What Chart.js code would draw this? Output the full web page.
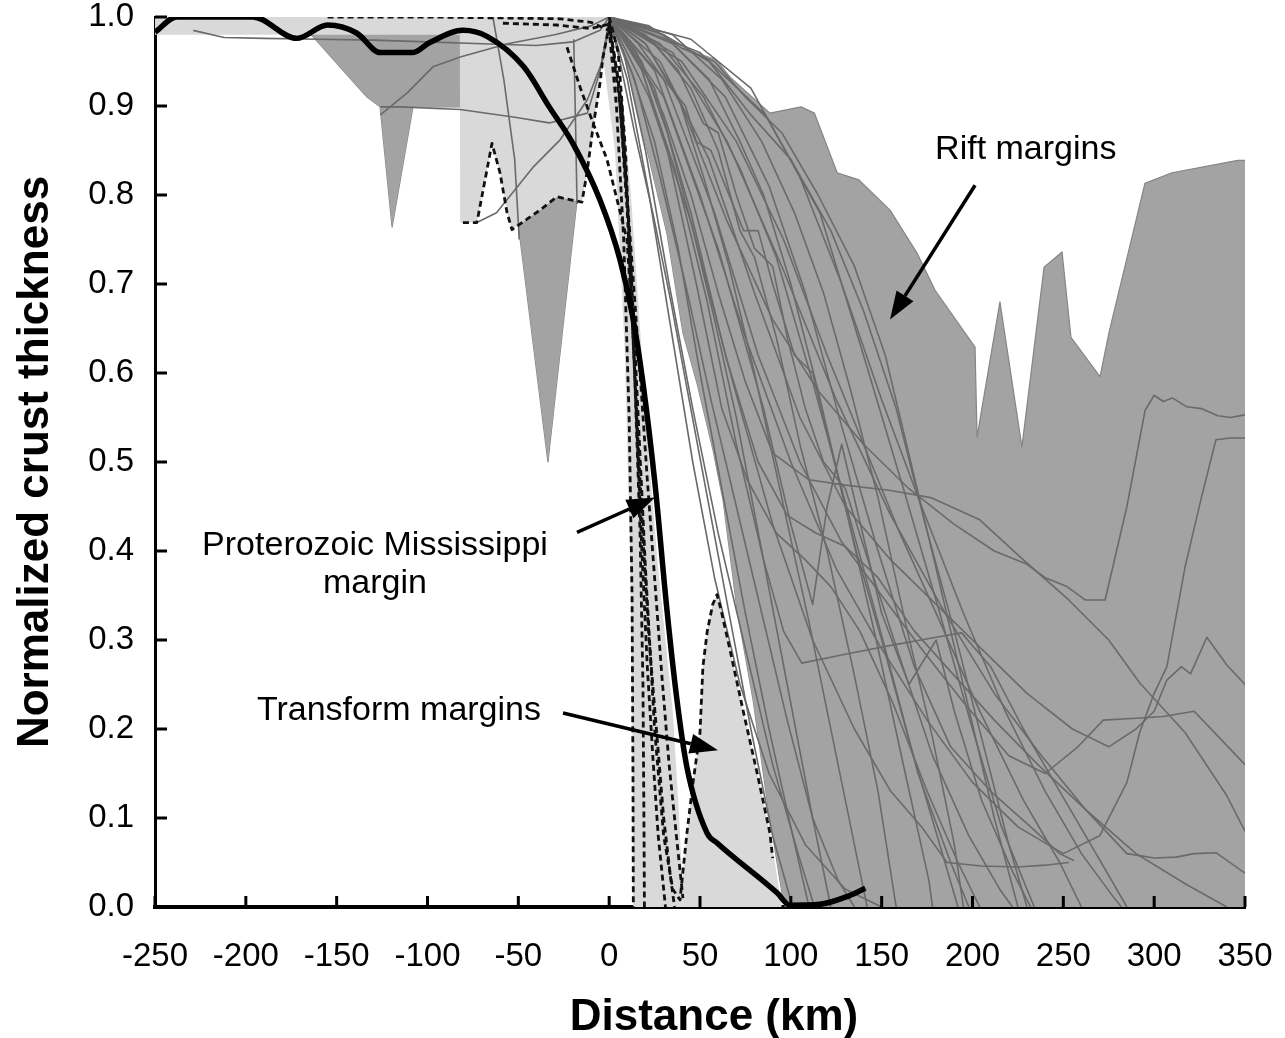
<!DOCTYPE html>
<html>
<head>
<meta charset="utf-8">
<title>Normalized crust thickness vs distance</title>
<script src="https://cdn.jsdelivr.net/npm/chart.js@4.4.1/dist/chart.umd.min.js"></script>
<style>
  html, body { margin: 0; padding: 0; background: #fff; }
  #wrap { width: 1285px; height: 1038px; }
</style>
</head>
<body>
<div id="wrap"><canvas id="crustChart" width="1285" height="1038"></canvas></div>
<script>
// Axis ticks
const distanceTicks = [-250, -200, -150, -100, -50, 0, 50, 100, 150, 200, 250, 300, 350];
const thicknessTicks = [0, 0.1, 0.2, 0.3, 0.4, 0.5, 0.6, 0.7, 0.8, 0.9, 1.0];

// Proterozoic Mississippi margin (thick black curve), [km, normalized thickness]
const mississippiMargin = [
  [-250, 0.983], [-238, 1.0], [-196, 1.0], [-172, 0.976], [-155, 0.991], [-139, 0.982],
  [-126, 0.96], [-108, 0.96], [-99, 0.971], [-80.5, 0.985], [-67, 0.978], [-47, 0.944],
  [-33, 0.899], [-20, 0.858], [-5, 0.794], [6, 0.727], [13, 0.663], [18.6, 0.589],
  [25.2, 0.476], [31.8, 0.334], [37.3, 0.233], [42.8, 0.157], [53.9, 0.083], [59.4, 0.072],
  [92.4, 0.016], [99.5, 0.002], [116, 0.003], [130, 0.011], [141, 0.021]
];

// Rift margin envelope (dark grey)
const riftEnvelopeTop = [
  [0, 1.0], [21.9, 0.989], [39.3, 0.966], [58.9, 0.952], [66.3, 0.933], [88.5, 0.892],
  [105.6, 0.899], [113, 0.892], [125.5, 0.825], [137.5, 0.817], [154.6, 0.783], [169.4, 0.735],
  [179.4, 0.693], [201.4, 0.629], [202.5, 0.528], [215.1, 0.68], [227.2, 0.517], [239.4, 0.719],
  [249.3, 0.736], [254.2, 0.64], [270.2, 0.596], [275.1, 0.645], [294.9, 0.813], [309.8, 0.825],
  [346.1, 0.839], [350, 0.839]
];
const riftEnvelopeBase = [
  [0, 1.0], [8.7, 0.952], [20.8, 0.851], [31.8, 0.757], [40.6, 0.645], [48.3, 0.589],
  [57.2, 0.513], [62.7, 0.457], [70.4, 0.334], [79.2, 0.233], [86.9, 0.12], [95.1, 0.016],
  [97, 0], [350, 0]
];
const riftShoulderTop = [[-181.2, 1.0], [-82, 1.0]];
const riftShoulderBase = [
  [-181.2, 1.0], [-163, 0.978], [-148.2, 0.944], [-133.3, 0.91], [-126.1, 0.899],
  [-119.5, 0.764], [-108, 0.899], [-82, 0.899]
];
const riftTroughTop = [[-51, 0.9], [-17.5, 0.9]];
const riftTroughBase = [[-51, 0.9], [-50.7, 0.778], [-33.7, 0.5], [-17.7, 0.794], [-17.5, 0.9]];

// Transform margin envelope (light grey)
const transformBandTop = [[-250, 1.0], [0, 1.0]];
const transformBandBase = [
  [-250, 0.98], [-82.2, 0.98], [-82, 0.769], [-72.8, 0.769], [-64.5, 0.858], [-60.1, 0.825],
  [-56.2, 0.78], [-53.5, 0.761], [-38.1, 0.783], [-28.7, 0.798], [-19.9, 0.794], [-15, 0.792],
  [-12.2, 0.825], [-8.9, 0.876], [-5, 0.926], [-3.4, 0.955], [0, 1.0]
];
const transformTongueTop = [
  [-3.4, 0.99], [0, 1.0], [6, 0.93], [12, 0.8], [17, 0.65], [22, 0.5], [27, 0.38],
  [31, 0.3], [35, 0.22], [38, 0.12], [40, 0.04], [41, 0]
];
const transformTongueBase = [
  [-3.4, 0.955], [3.2, 0.85], [8.7, 0.62], [11.5, 0.4], [12.8, 0.2], [13.2, 0], [41, 0]
];
const transformBump = [
  [39, 0], [39, 0.008], [42.8, 0.083], [46.1, 0.139], [50, 0.196], [51.6, 0.27], [54, 0.31],
  [57, 0.34], [59.4, 0.351], [62, 0.33], [66.5, 0.289], [73.7, 0.221], [81.4, 0.151],
  [88.5, 0.083], [92, 0.04], [95, 0]
];

// Individual rift margin profiles (thin grey)
const riftProfiles = [
  [[0,1],[6,0.95],[14,0.87],[24,0.78],[34,0.68],[44,0.57],[55,0.45],[66,0.33],[78,0.2],[90,0.08],[101,0]],
  [[0,1],[12,0.94],[25,0.86],[38,0.74],[50,0.6],[62,0.47],[75,0.33],[88,0.2],[100,0.09],[110,0]],
  [[0,1],[18,0.95],[32,0.87],[45,0.77],[58,0.66],[70,0.55],[84,0.4],[98,0.25],[112,0.1],[122,0]],
  [[0,1],[20,0.97],[38,0.91],[52,0.82],[66,0.72],[80,0.6],[95,0.46],[110,0.32],[125,0.17],[138,0.04],[142,0]],
  [[0,1],[25,0.97],[45,0.92],[60,0.85],[72,0.76],[80,0.73],[92,0.64],[105,0.52],[120,0.4],[135,0.26],[148,0.13],[158,0]],
  [[0,1],[30,0.98],[55,0.93],[72,0.86],[85,0.8],[100,0.7],[115,0.58],[130,0.45],[147,0.3],[163,0.15],[176,0.03],[178,0]],
  [[0,1],[35,0.98],[62,0.93],[84,0.86],[102,0.78],[118,0.69],[133,0.58],[148,0.46],[163,0.32],[178,0.19],[190,0.07],[195,0]],
  [[0,1],[22,0.99],[40,0.965],[58,0.95],[75,0.91],[95,0.87],[115,0.8],[135,0.72],[152,0.62],[166,0.5],[180,0.38],[196,0.24],[212,0.1],[225,0]],
  [[0,1],[30,0.98],[55,0.95],[78,0.89],[100,0.84],[122,0.76],[140,0.67],[158,0.56],[174,0.43],[190,0.31],[205,0.19],[220,0.07],[230,0]],
  [[0,1],[15,0.96],[30,0.89],[45,0.8],[60,0.69],[75,0.59],[90,0.51],[110,0.48],[130,0.474],[155,0.468],[177,0.46],[204,0.435],[228,0.39],[253,0.345],[275,0.3],[292,0.252],[317,0.196],[340,0.125],[350,0.085]],
  [[0,1],[20,0.97],[40,0.9],[65,0.77],[90,0.66],[115,0.58],[140,0.52],[165,0.47],[190,0.43],[212,0.4],[230,0.385],[240,0.37],[252,0.36],[262,0.345],[273,0.345],[285,0.45],[295,0.558],[300,0.575],[305,0.568],[310,0.572],[318,0.562],[326,0.56],[335,0.552],[342,0.55],[350,0.553]],
  [[0,1],[25,0.94],[50,0.8],[75,0.64],[100,0.5],[125,0.38],[150,0.29],[175,0.21],[200,0.14],[225,0.09],[250,0.06],[270,0.08],[285,0.14],[292,0.196],[300,0.24],[307,0.27],[317,0.382],[326,0.46],[334,0.525],[342,0.527],[350,0.527]],
  [[0,1],[28,0.95],[55,0.84],[80,0.69],[105,0.55],[130,0.45],[155,0.39],[180,0.34],[205,0.29],[230,0.24],[255,0.2],[275,0.18],[290,0.2],[300,0.22],[307,0.255],[315,0.27],[320,0.262],[329,0.303],[340,0.272],[350,0.25]],
  [[0,1],[30,0.93],[58,0.78],[82,0.62],[105,0.5],[128,0.41],[150,0.35],[172,0.29],[195,0.23],[220,0.17],[240,0.15],[258,0.18],[272,0.21],[290,0.212],[305,0.214],[322,0.22],[336,0.19],[350,0.16]],
  [[0,1],[35,0.96],[65,0.86],[95,0.72],[125,0.57],[155,0.44],[185,0.33],[212,0.24],[238,0.17],[262,0.11],[285,0.06],[300,0.055],[312,0.056],[322,0.06],[334,0.061],[350,0.038]],
  [[0,1],[22,0.91],[45,0.77],[68,0.59],[90,0.43],[112,0.3],[135,0.2],[155,0.13],[172,0.09],[186,0.05],[205,0.046],[225,0.045],[240,0.047],[253,0.05]],
  [[0,1],[18,0.94],[36,0.83],[54,0.68],[70,0.52],[85,0.39],[96,0.31],[106,0.274],[130,0.284],[155,0.294],[180,0.303],[194,0.308],[210,0.27],[228,0.2],[248,0.13],[268,0.06],[285,0]],
  [[0,1],[15,0.96],[32,0.85],[48,0.7],[62,0.56],[76,0.48],[92,0.42],[108,0.39],[122,0.36],[138,0.31],[156,0.23],[175,0.13],[192,0.05],[204,0]],
  [[0,1],[25,0.92],[45,0.78],[64,0.62],[82,0.5],[98,0.44],[114,0.42],[130,0.405],[148,0.37],[168,0.31],[190,0.26],[212,0.21],[236,0.16],[262,0.11],[290,0.06],[318,0.025],[340,0]],
  [[0,1],[40,0.95],[70,0.86],[96,0.75],[120,0.62],[140,0.52],[160,0.42],[180,0.33],[204,0.22],[228,0.12],[248,0.05],[260,0]],
  [[0,1],[10,0.93],[22,0.8],[34,0.65],[46,0.5],[58,0.37],[72,0.25],[88,0.15],[108,0.07],[130,0.02],[150,0]],
  [[0,1],[28,0.97],[52,0.91],[72,0.83],[92,0.73],[112,0.59],[132,0.44],[152,0.29],[170,0.15],[188,0.05],[198,0]],
  [[0,1],[45,0.975],[78,0.92],[105,0.82],[128,0.7],[150,0.57],[172,0.45],[195,0.33],[218,0.22],[240,0.13],[260,0.06],[278,0.01],[282,0]],
  [[0,1],[8,0.96],[20,0.85],[33,0.7],[46,0.56],[60,0.42],[75,0.29],[90,0.16],[104,0.06],[113,0]],
  [[0,1],[35,0.97],[64,0.91],[88,0.81],[108,0.69],[128,0.54],[148,0.4],[168,0.27],[188,0.18],[210,0.13],[232,0.09],[248,0.06],[256,0.052]],
  [[0,1],[50,0.96],[86,0.89],[116,0.78],[140,0.62],[162,0.47],[182,0.33],[200,0.2],[216,0.09],[230,0.02],[234,0]],
  [[0,1],[14,0.93],[28,0.82],[42,0.7],[56,0.57],[70,0.45],[84,0.33],[98,0.21],[112,0.1],[126,0.03],[135,0]],
  [[0,1],[16,0.97],[30,0.93],[42,0.9],[48,0.86],[56,0.85],[66,0.8],[74,0.76],[82,0.76],[90,0.7],[102,0.62],[112,0.6],[124,0.5],[136,0.4],[150,0.3],[166,0.18],[182,0.07],[192,0]],
  [[0,1],[20,0.98],[38,0.94],[52,0.88],[60,0.87],[70,0.8],[80,0.74],[90,0.72],[98,0.64],[108,0.56],[118,0.5],[130,0.47],[144,0.38],[160,0.28],[178,0.17],[198,0.08],[215,0.02],[222,0]],
  [[0,1],[30,0.91],[60,0.74],[85,0.56],[100,0.43],[112,0.34],[120,0.45],[128,0.52],[136,0.45],[150,0.33],[165,0.25],[180,0.3],[190,0.22],[205,0.12],[222,0.04],[232,0]],
  // landward segments
  [[-229,0.985],[-212,0.977],[-190,0.976],[-160,0.975],[-130,0.974],[-100,0.972],[-70,0.97],[-40,0.968],[-20,0.972],[-5,0.985],[0,1]],
  [[-126,0.899],[-115,0.899],[-82,0.896],[-51,0.887],[-33,0.881],[-12,0.892],[-5,0.94],[-1,0.985],[0,1]],
  [[-126,0.89],[-111,0.915],[-97,0.944],[-82,0.955],[-56,0.97],[-30,0.98],[-10,0.99],[0,1]],
  [[-72,0.77],[-62,0.78],[-42,0.831],[-27,0.862],[-12,0.907],[-3.4,0.952],[0,0.99]],
  [[-64,1.0],[-58,0.93],[-52,0.84],[-49.5,0.75]],
  [[-19.5,0.975],[-18.5,0.88],[-17.7,0.79]]
];

// Individual transform margin profiles (dashed black)
const transformProfiles = [
  [[-155,1.0],[-100,1.0],[-60,0.999],[-27,0.998],[-10,0.994],[0,0.985],[4,0.9],[8,0.75],[11,0.55],[12.6,0.35],[13.1,0.15],[13.3,0]],
  [[-80.5,0.769],[-72.8,0.769],[-64.5,0.858],[-60.1,0.825],[-56.2,0.78],[-53.5,0.761],[-38.1,0.783],[-28.7,0.798],[-19.9,0.794],[-15,0.792],[-12.2,0.825],[-8.9,0.876],[-5,0.926],[-3.4,0.955],[0,0.99],[5,0.93],[10,0.78],[14,0.6],[17,0.42],[18.6,0.25],[19.2,0.08],[19.4,0]],
  [[-58.5,0.993],[-29,0.991],[-10,0.987],[0,0.992],[6,0.9],[12,0.74],[17,0.6],[21,0.48],[25,0.37],[29,0.26],[33,0.16],[37,0.08],[40.6,0.01]],
  [[-23.2,0.966],[-16,0.921],[-8.9,0.881],[-1.2,0.84],[4.3,0.795],[9.8,0.75],[13,0.65],[16,0.52],[19,0.4],[22,0.3],[26,0.2],[30,0.1],[34,0.03],[36,0]],
  [[0,1.0],[5,0.96],[9,0.85],[12,0.7],[15,0.55],[18,0.4],[21,0.27],[24,0.17],[27,0.08],[30,0.02],[31,0]],
  [[0,0.995],[7,0.9],[12,0.72],[16,0.55],[20,0.38],[25,0.2],[30,0.08],[35,0.02],[39,0.008],[42.8,0.083],[46.1,0.139],[50,0.196],[51.6,0.27],[54,0.31],[57,0.34],[59.4,0.351],[62,0.33],[66.5,0.289],[73.7,0.221],[81.4,0.151],[88.5,0.083],[90,0.055]]
];

const FONT = '"Liberation Sans", Arial, Helvetica, sans-serif';
const DARK = '#a3a3a3';
const LIGHT = '#d9d9d9';
const EDGE = '#858585';
const NONE = 'rgba(0,0,0,0)';

const toPoints = pairs => pairs.map(([x, y]) => ({ x, y }));

// Build datasets: lower "order" is drawn on top
const datasets = [];
datasets.push({ data: toPoints(mississippiMargin), borderColor: '#000', borderWidth: 5.5,
  cubicInterpolationMode: 'monotone', fill: false, order: 0 });
transformProfiles.forEach(p => datasets.push({ data: toPoints(p), borderColor: '#111',
  borderWidth: 2.8, borderDash: [6, 4], fill: false, order: 1 }));
riftProfiles.forEach(p => datasets.push({ data: toPoints(p), borderColor: '#6a6a6a',
  borderWidth: 1.6, fill: false, order: 2 }));

function addBand(top, base, color, edge, order) {
  datasets.push({ data: toPoints(top), borderColor: edge || NONE, borderWidth: edge ? 1.2 : 0,
    backgroundColor: color, fill: '+1', order });
  datasets.push({ data: toPoints(base), borderColor: edge || NONE, borderWidth: edge ? 1.2 : 0,
    fill: false, order });
}
addBand(transformBandTop, transformBandBase, LIGHT, null, 3);
addBand(transformTongueTop, transformTongueBase, LIGHT, null, 3);
datasets.push({ data: toPoints(transformBump), borderColor: NONE, borderWidth: 0,
  backgroundColor: LIGHT, fill: 'origin', order: 3 });
addBand(riftEnvelopeTop, riftEnvelopeBase, DARK, EDGE, 4);
addBand(riftShoulderTop, riftShoulderBase, DARK, EDGE, 4);
addBand(riftTroughTop, riftTroughBase, DARK, EDGE, 4);

// Labels and arrows, anchored in data units
const notes = [
  { text: 'Rift margins', x: 179.4, y: 0.840, align: 'left' },
  { text: 'Proterozoic Mississippi', x: -128.9, y: 0.3955, align: 'center' },
  { text: 'margin', x: -128.9, y: 0.353, align: 'center' },
  { text: 'Transform margins', x: -115.7, y: 0.210, align: 'center' }
];
const arrows = [
  { from: [201.4, 0.811], to: [154.6, 0.66] },
  { from: [-17.7, 0.421], to: [25.2, 0.46] },
  { from: [-25.4, 0.218], to: [59.9, 0.176] }
];

const crustOverlay = {
  id: 'crustOverlay',
  afterDraw(chart) {
    const { ctx, chartArea: area, scales: { x, y } } = chart;
    ctx.save();
    // inward tick marks
    ctx.strokeStyle = '#000';
    ctx.lineWidth = 3;
    distanceTicks.forEach(v => {
      const px = x.getPixelForValue(v);
      ctx.beginPath(); ctx.moveTo(px, area.bottom); ctx.lineTo(px, area.bottom - 11); ctx.stroke();
    });
    thicknessTicks.forEach(v => {
      const py = y.getPixelForValue(v);
      ctx.beginPath(); ctx.moveTo(area.left, py); ctx.lineTo(area.left + 12, py); ctx.stroke();
    });

    // annotation text
    ctx.fillStyle = '#000';
    ctx.font = '34px ' + FONT;
    ctx.textBaseline = 'alphabetic';
    notes.forEach(n => {
      ctx.textAlign = n.align;
      ctx.fillText(n.text, x.getPixelForValue(n.x), y.getPixelForValue(n.y));
    });

    // arrows
    arrows.forEach(a => {
      const x0 = x.getPixelForValue(a.from[0]), y0 = y.getPixelForValue(a.from[1]);
      const x1 = x.getPixelForValue(a.to[0]), y1 = y.getPixelForValue(a.to[1]);
      const ang = Math.atan2(y1 - y0, x1 - x0);
      const len = 28, half = 10;
      const bx = x1 - len * Math.cos(ang), by = y1 - len * Math.sin(ang);
      ctx.lineWidth = 3.5;
      ctx.beginPath(); ctx.moveTo(x0, y0); ctx.lineTo(bx, by); ctx.stroke();
      ctx.beginPath();
      ctx.moveTo(x1, y1);
      ctx.lineTo(bx + half * Math.sin(ang), by - half * Math.cos(ang));
      ctx.lineTo(bx - half * Math.sin(ang), by + half * Math.cos(ang));
      ctx.closePath();
      ctx.fill();
    });

    // x axis title
    ctx.font = 'bold 44px ' + FONT;
    ctx.textAlign = 'center';
    ctx.fillText('Distance (km)', (area.left + area.right) / 2 + 14, 1030);
    ctx.restore();
  }
};

new Chart(document.getElementById('crustChart').getContext('2d'), {
  type: 'line',
  data: { datasets },
  options: {
    responsive: false,
    animation: false,
    devicePixelRatio: 1,
    events: [],
    layout: { padding: { top: 17, right: 40, left: 0, bottom: 0 } },
    elements: {
      point: { radius: 0, hoverRadius: 0 },
      line: { tension: 0, borderJoinStyle: 'round' }
    },
    plugins: {
      legend: { display: false },
      tooltip: { enabled: false },
      filler: { propagate: false }
    },
    scales: {
      x: {
        type: 'linear', min: -250, max: 350, z: 1,
        afterBuildTicks: s => { s.ticks = distanceTicks.map(v => ({ value: v })); },
        afterFit: s => { s.height = 131; s.paddingLeft = 0; s.paddingRight = 0; },
        grid: { display: false },
        border: { display: true, color: '#000', width: 4 },
        ticks: { font: { family: FONT, size: 33 }, color: '#000', padding: 22,
          maxRotation: 0, autoSkip: false, callback: v => String(v) }
      },
      y: {
        type: 'linear', min: 0, max: 1, z: 1,
        afterBuildTicks: s => { s.ticks = thicknessTicks.map(v => ({ value: v })); },
        afterFit: s => { s.width = 155; s.paddingTop = 0; s.paddingBottom = 0; },
        grid: { display: false },
        border: { display: true, color: '#000', width: 3 },
        ticks: { font: { family: FONT, size: 33 }, color: '#000', padding: 13,
          callback: v => Number(v).toFixed(1) },
        title: { display: true, text: 'Normalized crust thickness', color: '#000',
          font: { family: FONT, size: 44, weight: 'bold', lineHeight: 1 },
          padding: { top: 14, bottom: 0 } }
      }
    }
  },
  plugins: [crustOverlay]
});
</script>
</body>
</html>
